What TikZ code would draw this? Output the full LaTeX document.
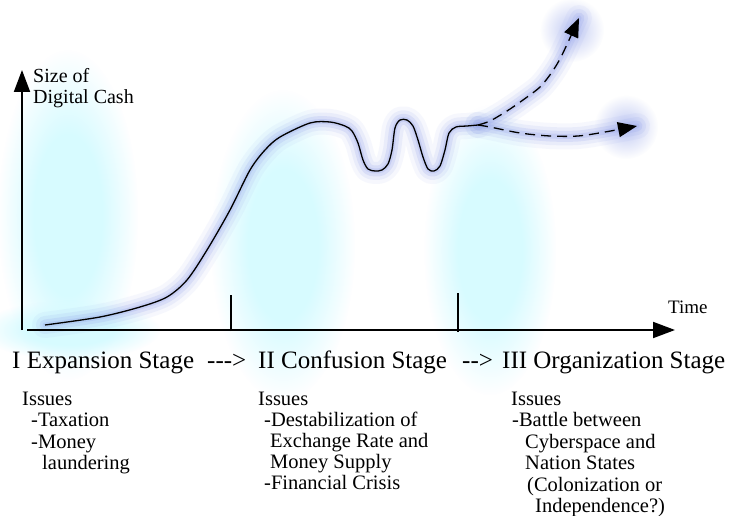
\documentclass[tikz,border=0pt]{standalone}
\usepackage{fontspec}
\setmainfont{Liberation Serif}
\usetikzlibrary{arrows.meta,fadings}
\definecolor{haze}{RGB}{215,251,255}
\definecolor{glow}{RGB}{150,165,235}
\pgfdeclareradialshading{hazeshade}{\pgfpointorigin}{color(0bp)=(white); color(12bp)=(white); color(25bp)=(black); color(50bp)=(black)}
\pgfdeclarefading{hazefade}{\pgfuseshading{hazeshade}}
\tikzfading[name=glowfade, inner color=transparent!0, outer color=transparent!100]
\newcommand{\hy}{\mbox{-}}
\begin{document}
\begin{tikzpicture}[x=1pt,y=-1pt,
  axisline/.style={line width=2pt, -{Triangle[length=22pt,width=16pt]}},
  tickline/.style={line width=1.4pt},
  curveline/.style={line width=1.3pt, line join=round},
  dashline/.style={line width=1.3pt, dash pattern=on 10pt off 6pt, -{Triangle[length=19pt,width=15pt]}},
  glowline/.style={draw=glow, line cap=round, line join=round},
  hazeblob/.style={fill=haze, path fading=hazefade},
  stage/.style={anchor=base west, inner sep=0pt, font=\fontsize{25}{30}\selectfont},
  issue/.style={anchor=base west, inner sep=0pt, font=\fontsize{20.5}{22}\selectfont},
  axlbl/.style={anchor=base west, inner sep=0pt, font=\fontsize{20}{22}\selectfont}]
\useasboundingbox (0,0) rectangle (729,516);
\fill[white] (0,0) rectangle (729,516);

% haze blobs
\fill[hazeblob] (68,215) ellipse [x radius=70, y radius=165];
\fill[hazeblob] (70,330) ellipse [x radius=90, y radius=30];
\fill[hazeblob] (283,245) ellipse [x radius=72, y radius=155];
\fill[hazeblob] (490,250) ellipse [x radius=66, y radius=145];

\def\solidpts{(45,325) (100,317) (140,307) (167,297) (187,280) (207,250) (230,210) (250,170) (265,150) (280,137) (310,123) (330,122) (345,126) (352,131) (358,143) (363,160) (368,169) (375,171) (382,170) (388,164) (392,150) (395,128) (400,120) (407,120) (413,126) (418,140) (423,157) (428,169) (434,171) (440,166) (445,150) (449,133) (456,127) (467,126) (478,125)}
\def\uppts{(478,125) (490,121) (507,111) (523,100) (540,87) (552,72) (562,55) (579,18)}
\def\lowpts{(478,125) (490,127) (520,133) (550,136) (578,136) (605,132) (637,126)}

% glow along the curve
\foreach \w/\o in {26/0.08, 18/0.13, 11/0.2, 5/0.25}{
  \draw[glowline, line width=\w pt, opacity=\o] plot[smooth,tension=0.5] coordinates {\solidpts};
  \draw[glowline, line width=\w pt, opacity=\o] plot[smooth,tension=0.5] coordinates {\uppts};
  \draw[glowline, line width=\w pt, opacity=\o] plot[smooth,tension=0.5] coordinates {\lowpts};
}
\fill[glow, opacity=0.6, path fading=glowfade] (572,30) circle (32);
\fill[glow, opacity=0.6, path fading=glowfade] (626,127) circle (32);

% axes
\coordinate (orig) at (22,330);
\coordinate (ytop) at (22,70);
\coordinate (xstart) at (27,330);
\coordinate (xend) at (675,330);
\draw[axisline] (orig) -- (ytop);
\draw[axisline] (xstart) -- (xend);
\coordinate (t1a) at (231,331); \coordinate (t1b) at (231,295);
\coordinate (t2a) at (458,332); \coordinate (t2b) at (458,293);
\draw[tickline] (t1a) -- (t1b);
\draw[tickline] (t2a) -- (t2b);

% curve
\draw[curveline] plot[smooth,tension=0.5] coordinates {\solidpts};
\draw[dashline] plot[smooth,tension=0.5] coordinates {\uppts};
\draw[dashline] plot[smooth,tension=0.5] coordinates {\lowpts};

% axis labels
\node[axlbl] (ylab1) at (33,83) {Size of};
\node[axlbl] (ylab2) at (33,104) {Digital Cash};
\node[axlbl, font=\fontsize{19}{22}\selectfont] (xlab) at (668,313) {Time};

% stages
\node[stage] (s1) at (12,368) {I Expansion Stage};
\node[stage] (a1) at (207,368) {\hy\hy\hy>};
\node[stage] (s2) at (258,368) {II Confusion Stage};
\node[stage] (a2) at (462,368) {\hy\hy>};
\node[stage] (s3) at (502,368) {III Organization Stage};

% issues column 1
\node[issue] (c1l1) at (22,405) {Issues};
\node[issue] (c1l2) at (31,426.5) {-Taxation};
\node[issue] (c1l3) at (31,448) {-Money};
\node[issue] (c1l4) at (42,469.5) {laundering};

% issues column 2
\node[issue] (c2l1) at (258,405) {Issues};
\node[issue] (c2l2) at (264,426) {-Destabilization of};
\node[issue] (c2l3) at (270,447) {Exchange Rate and};
\node[issue] (c2l4) at (270,468) {Money Supply};
\node[issue] (c2l5) at (264,489) {-Financial Crisis};

% issues column 3
\node[issue] (c3l1) at (511,405) {Issues};
\node[issue] (c3l2) at (512,426.5) {-Battle between};
\node[issue] (c3l3) at (525,448) {Cyberspace and};
\node[issue] (c3l4) at (525,469.5) {Nation States};
\node[issue] (c3l5) at (527,491) {(Colonization or};
\node[issue] (c3l6) at (535,512.5) {Independence?)};
\end{tikzpicture}
\end{document}
